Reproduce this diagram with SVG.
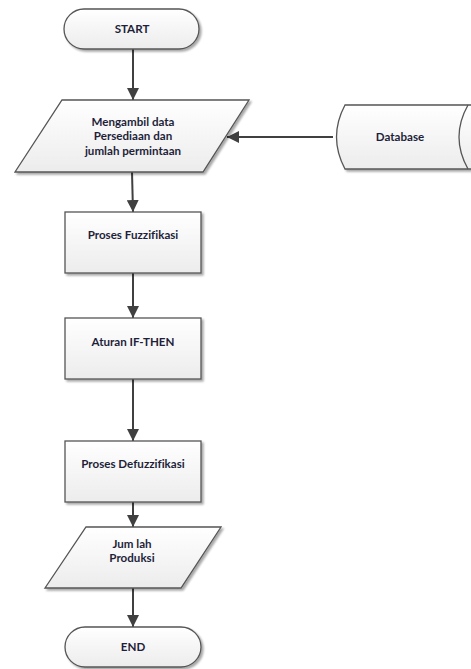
<svg xmlns="http://www.w3.org/2000/svg" width="471" height="669" viewBox="0 0 471 669">
  <defs>
    <linearGradient id="shapeFill" x1="0" y1="0" x2="0" y2="1">
      <stop offset="0" stop-color="#ffffff"/>
      <stop offset="1" stop-color="#ececec"/>
    </linearGradient>
    <filter id="shade" x="-10%" y="-10%" width="130%" height="140%">
      <feGaussianBlur in="SourceAlpha" stdDeviation="1"/>
      <feOffset dx="2" dy="2" result="off"/>
      <feComponentTransfer><feFuncA type="linear" slope="0.35"/></feComponentTransfer>
      <feMerge><feMergeNode/><feMergeNode in="SourceGraphic"/></feMerge>
    </filter>
    <marker id="arrow" viewBox="0 0 10 10" refX="10" refY="5" markerWidth="6" markerHeight="6" orient="auto" markerUnits="strokeWidth">
      <path d="M0,0 L10,5 L0,10 z" fill="#404040"/>
    </marker>
  </defs>
  <style>
    .shape { fill: url(#shapeFill); stroke: #555555; stroke-width: 1.3; filter: url(#shade); }
    .label { font-family: Lato, "Liberation Sans", sans-serif; font-weight: bold; font-size: 11.6px; fill: #1f1f3a; text-anchor: middle; font-variant-ligatures: none; }
    .conn { stroke: #404040; stroke-width: 2; fill: none; marker-end: url(#arrow); }
  </style>

  <rect width="471" height="669" fill="#ffffff"/>

  <g id="connectors">
    <line class="conn" x1="133" y1="49" x2="133" y2="100"/>
    <line class="conn" x1="333" y1="137" x2="227" y2="137"/>
    <line class="conn" x1="132" y1="172" x2="133" y2="212"/>
    <line class="conn" x1="133" y1="273" x2="133" y2="318"/>
    <line class="conn" x1="133" y1="379" x2="133" y2="441"/>
    <line class="conn" x1="133" y1="502" x2="133" y2="527"/>
    <line class="conn" x1="133" y1="588" x2="133" y2="627"/>
  </g>

  <g id="start">
    <rect class="shape" x="64" y="9" width="135" height="40" rx="20" ry="20"/>
    <text class="label" x="132" y="33">START</text>
  </g>

  <g id="input-data">
    <polygon class="shape" points="62,100 249,100 203,172 15,172"/>
    <text class="label" x="133" y="126">Mengambil data</text>
    <text class="label" x="133" y="140">Persediaan dan</text>
    <text class="label" x="133" y="155">jumlah permintaan</text>
  </g>

  <g id="database">
    <path class="shape" d="M345,105 L474,105 L474,169 L345,169 Q328,137 345,105 z"/>
    <path d="M468,105 Q450,137 468,169" fill="none" stroke="#555555" stroke-width="1.3"/>
    <text class="label" x="400" y="141">Database</text>
  </g>

  <g id="fuzzifikasi">
    <rect class="shape" x="65" y="212" width="136" height="61"/>
    <text class="label" x="133" y="239">Proses Fuzzifikasi</text>
  </g>

  <g id="aturan">
    <rect class="shape" x="65" y="318" width="136" height="61"/>
    <text class="label" x="133" y="346">Aturan IF-THEN</text>
  </g>

  <g id="defuzzifikasi">
    <rect class="shape" x="65" y="441" width="136" height="61"/>
    <text class="label" x="133" y="468">Proses Defuzzifikasi</text>
  </g>

  <g id="output-produksi">
    <polygon class="shape" points="86,527 221,527 181,588 45,588"/>
    <text class="label" x="132" y="548">Jum lah</text>
    <text class="label" x="132" y="562">Produksi</text>
  </g>

  <g id="end">
    <rect class="shape" x="65" y="627" width="136" height="40" rx="20" ry="20"/>
    <text class="label" x="133" y="651">END</text>
  </g>
</svg>
